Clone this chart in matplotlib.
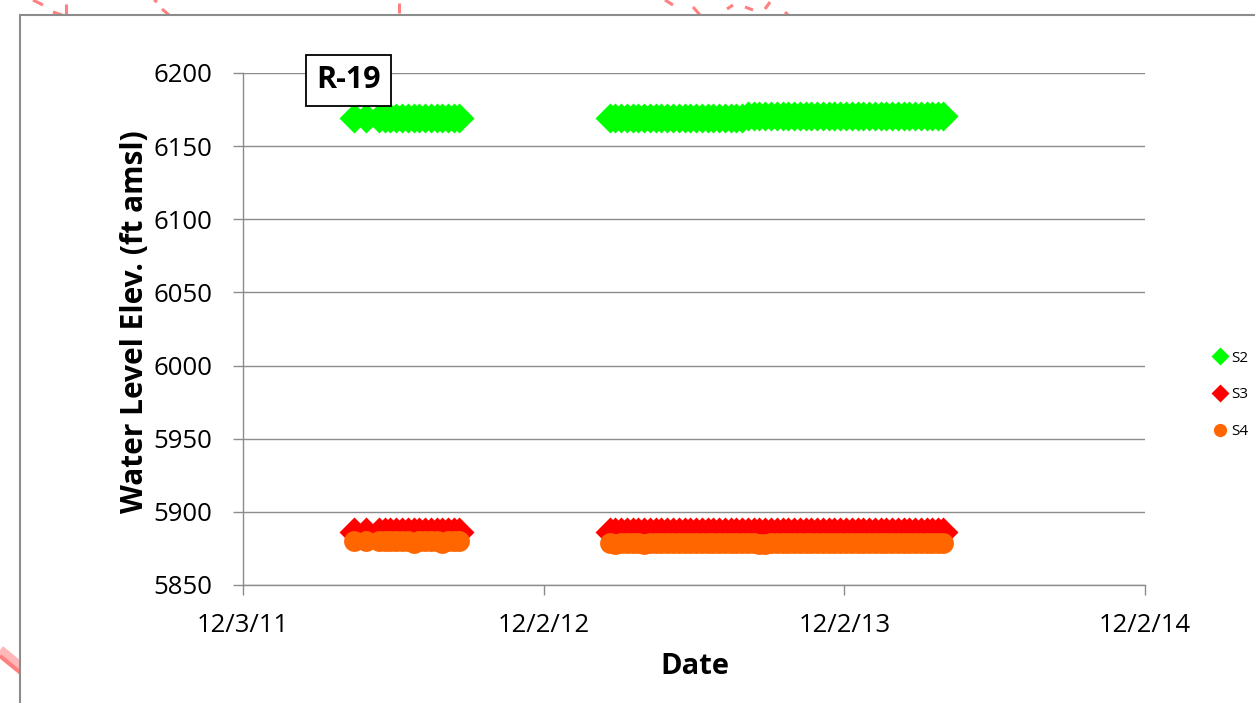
import matplotlib
matplotlib.use("Agg")
import matplotlib.pyplot as plt
from matplotlib.lines import Line2D
from matplotlib.patches import Rectangle
import pandas as pd

# ---------------- data ----------------
dates = [
    "2012-04-16", "2012-04-30", "2012-05-16", "2012-05-23", "2012-05-30", "2012-06-06",
    "2012-06-13", "2012-06-20", "2012-06-27", "2012-07-04", "2012-07-11", "2012-07-18",
    "2012-07-25", "2012-08-01", "2012-08-08", "2012-08-15", "2012-08-21",
    "2013-02-20", "2013-02-27", "2013-03-06", "2013-03-13", "2013-03-20", "2013-03-27",
    "2013-04-03", "2013-04-10", "2013-04-17", "2013-04-24", "2013-05-01", "2013-05-08",
    "2013-05-15", "2013-05-22", "2013-05-29", "2013-06-05", "2013-06-12", "2013-06-19",
    "2013-06-26", "2013-07-03", "2013-07-10", "2013-07-17", "2013-07-24", "2013-07-31",
    "2013-08-07", "2013-08-14", "2013-08-21", "2013-08-28", "2013-09-04", "2013-09-11",
    "2013-09-18", "2013-09-25", "2013-10-02", "2013-10-09", "2013-10-16", "2013-10-23",
    "2013-10-30", "2013-11-06", "2013-11-13", "2013-11-20", "2013-11-27", "2013-12-04",
    "2013-12-11", "2013-12-18", "2013-12-25", "2014-01-01", "2014-01-08", "2014-01-15",
    "2014-01-22", "2014-01-29", "2014-02-05", "2014-02-12", "2014-02-19", "2014-02-26",
    "2014-03-05", "2014-03-12", "2014-03-19", "2014-03-26", "2014-04-01",
]

s2 = [
    6169.3, 6169.3, 6169.2, 6169.2, 6169.2, 6169.2, 6169.2, 6169.2, 6169.2, 6169.2,
    6169.2, 6169.2, 6169.2, 6169.2, 6169.2, 6169.2, 6169.2,
    6169.3, 6169.3, 6169.2, 6169.2, 6169.2, 6169.2, 6169.2, 6169.2, 6169.2, 6169.2,
    6169.2, 6169.2, 6169.2, 6169.2, 6169.2, 6169.2, 6169.2, 6169.2, 6169.2, 6169.2,
    6169.2, 6169.2, 6169.2, 6169.2,
    6170.4, 6170.4, 6170.4, 6170.4, 6170.4, 6170.4, 6170.4, 6170.4, 6170.4, 6170.4,
    6170.4, 6170.4, 6170.4, 6170.4, 6170.4, 6170.4, 6170.4, 6170.4, 6170.4, 6170.4,
    6170.4, 6170.4, 6170.4, 6170.4, 6170.4, 6170.4, 6170.4, 6170.4, 6170.4, 6170.4,
    6170.4, 6170.4, 6170.4, 6170.4, 6170.4,
]

s3 = [
    5886.0, 5886.0, 5886.3, 5886.3, 5886.3, 5886.3, 5886.3, 5886.3, 5886.3, 5886.3,
    5886.3, 5886.3, 5886.3, 5886.3, 5886.3, 5886.3, 5886.0,
    5885.9, 5886.2, 5886.2, 5886.2, 5886.2, 5886.2, 5886.2, 5886.2, 5886.2, 5886.2,
    5886.2, 5886.2, 5886.2, 5886.2, 5886.2, 5886.2, 5886.2, 5886.2, 5886.2, 5886.2,
    5886.2, 5886.2, 5886.2, 5886.2, 5886.2, 5886.2, 5886.2, 5886.2, 5886.2, 5886.2,
    5886.2, 5886.2, 5886.2, 5886.2, 5886.2, 5886.2, 5886.2, 5886.2, 5886.2, 5886.2,
    5886.2, 5886.2, 5886.2, 5886.2, 5886.2, 5886.2, 5886.2, 5886.2, 5886.2, 5886.2,
    5886.2, 5886.2, 5886.2, 5886.2, 5886.2, 5886.2, 5886.2, 5886.2, 5886.0,
]

s4 = [
    5880.3, 5880.3, 5879.8, 5879.8, 5879.8, 5879.8, 5879.8, 5879.8, 5878.5, 5879.8,
    5879.8, 5879.8, 5879.8, 5878.5, 5879.8, 5879.8, 5879.8,
    5879.0, 5878.3, 5879.0, 5879.0, 5879.0, 5879.0, 5878.3, 5879.0, 5879.0, 5879.0,
    5879.0, 5879.0, 5879.0, 5879.0, 5879.0, 5878.6, 5878.6, 5878.6, 5879.0, 5879.0,
    5879.0, 5879.0, 5879.0, 5879.0, 5879.0, 5879.0, 5878.3, 5878.3, 5879.0, 5879.0,
    5879.0, 5879.0, 5879.0, 5878.6, 5878.6, 5878.6, 5878.6, 5878.6, 5878.6, 5878.6,
    5878.6, 5878.6, 5878.6, 5878.6, 5878.6, 5878.6, 5878.6, 5878.6, 5878.6, 5878.6,
    5878.6, 5878.6, 5878.6, 5878.6, 5878.6, 5878.6, 5878.6, 5878.6, 5878.6,
]

series_names = ["S2", "S3", "S4"]
y_ticks = [5850, 5900, 5950, 6000, 6050, 6100, 6150, 6200]
x_ticks = ["2011-12-03", "2012-12-02", "2013-12-02", "2014-12-02"]
x_tick_labels = ["12/3/11", "12/2/12", "12/2/13", "12/2/14"]
well_name = "R-19"

# ---------------- figure ----------------
W, H = 1255, 703
FONT = "Open Sans"
fig = plt.figure(figsize=(W / 100, H / 100), dpi=100)

# background decorations (slide artwork) in pixel coordinates
bg = fig.add_axes([0, 0, 1, 1], zorder=0)
bg.set_xlim(0, W)
bg.set_ylim(H, 0)
bg.axis("off")
pink = "#ff8080"
segs = [((33, 0), (43, 5)), ((53, 12), (62, 15)), ((66, 4), (66, 15)),
        ((154, 0), (157, 2)), ((162, 9), (169, 15)), ((399, 3), (399, 13)),
        ((665, 0), (673, 5)), ((693, 7), (700, 15)), ((727, 9), (733, 5)),
        ((745, 7), (753, 10)), ((765, 9), (770, 2)), ((785, 12), (788, 15))]
for (x0, y0), (x1, y1) in segs:
    bg.plot([x0, x1], [y0, y1], color=pink, lw=2.2, solid_capstyle="butt")
bg.plot([0, 22], [650, 668], color="#ffb8b8", lw=7, solid_capstyle="butt")
bg.plot([0, 22], [656, 674], color=pink, lw=3, solid_capstyle="butt")
bg.add_patch(Rectangle((20, 15), W, H, facecolor="white", edgecolor="#8c8c8c", lw=1.5, zorder=5))

# main axes
ax = fig.add_axes([243 / W, 1 - 585 / H, (1145 - 243) / W, (585 - 73) / H], zorder=2)
ax.set_facecolor("none")
x = pd.to_datetime(dates)
ax.plot(x, s2, linestyle="none", marker="D", ms=15.5, color="#00ff00", mec="none", zorder=3)
ax.plot(x, s3, linestyle="none", marker="D", ms=15.5, color="#ff0000", mec="none", zorder=4)
ax.plot(x, s4, linestyle="none", marker="o", ms=15.0, color="#ff6600", mec="none", zorder=5)

ax.set_xlim(pd.Timestamp(x_ticks[0]), pd.Timestamp(x_ticks[-1]))
ax.set_ylim(y_ticks[0], y_ticks[-1])
ax.set_xticks(pd.to_datetime(x_ticks))
ax.set_xticklabels(x_tick_labels)
ax.set_yticks(y_ticks)
ax.set_yticklabels([str(v) for v in y_ticks])

gc = "#8c8c8c"
ax.grid(axis="y", color=gc, lw=1.0)
ax.set_axisbelow(True)
for side in ["top", "right"]:
    ax.spines[side].set_visible(False)
for side in ["left", "bottom"]:
    ax.spines[side].set_color(gc)
    ax.spines[side].set_linewidth(1.0)
ax.tick_params(axis="both", direction="out", length=7, width=1.0, color=gc,
               labelsize=18.5, labelcolor="black")
ax.tick_params(axis="y", pad=15)
ax.tick_params(axis="x", pad=13)
for lab in ax.get_xticklabels() + ax.get_yticklabels():
    lab.set_fontfamily(FONT)

fig.text(135 / W, 1 - 322 / H, "Water Level Elev. (ft amsl)", rotation=90,
         ha="center", va="center", fontsize=21.5, fontweight="bold", family=FONT)
fig.text(695 / W, 1 - 667 / H, "Date", ha="center", va="center",
         fontsize=21, fontweight="bold", family=FONT)

fig.text(348.5 / W, 1 - 80.5 / H, well_name, ha="center", va="center",
         fontsize=22, fontweight="bold", family=FONT, zorder=10,
         bbox=dict(boxstyle="square,pad=0.34", facecolor="white", edgecolor="black", lw=1.3))

handles = [
    Line2D([], [], linestyle="none", marker="D", ms=9, color="#00ff00", mec="none"),
    Line2D([], [], linestyle="none", marker="D", ms=9, color="#ff0000", mec="none"),
    Line2D([], [], linestyle="none", marker="o", ms=9.5, color="#ff6600", mec="none"),
]
fig.legend(handles, series_names, loc="center left", bbox_to_anchor=(1205 / W, 1 - 395 / H),
           frameon=False, prop={"family": FONT, "size": 11}, labelspacing=1.42,
           handlelength=1.0, handletextpad=0.2, borderpad=0)

fig.savefig("out.png", dpi=100)
